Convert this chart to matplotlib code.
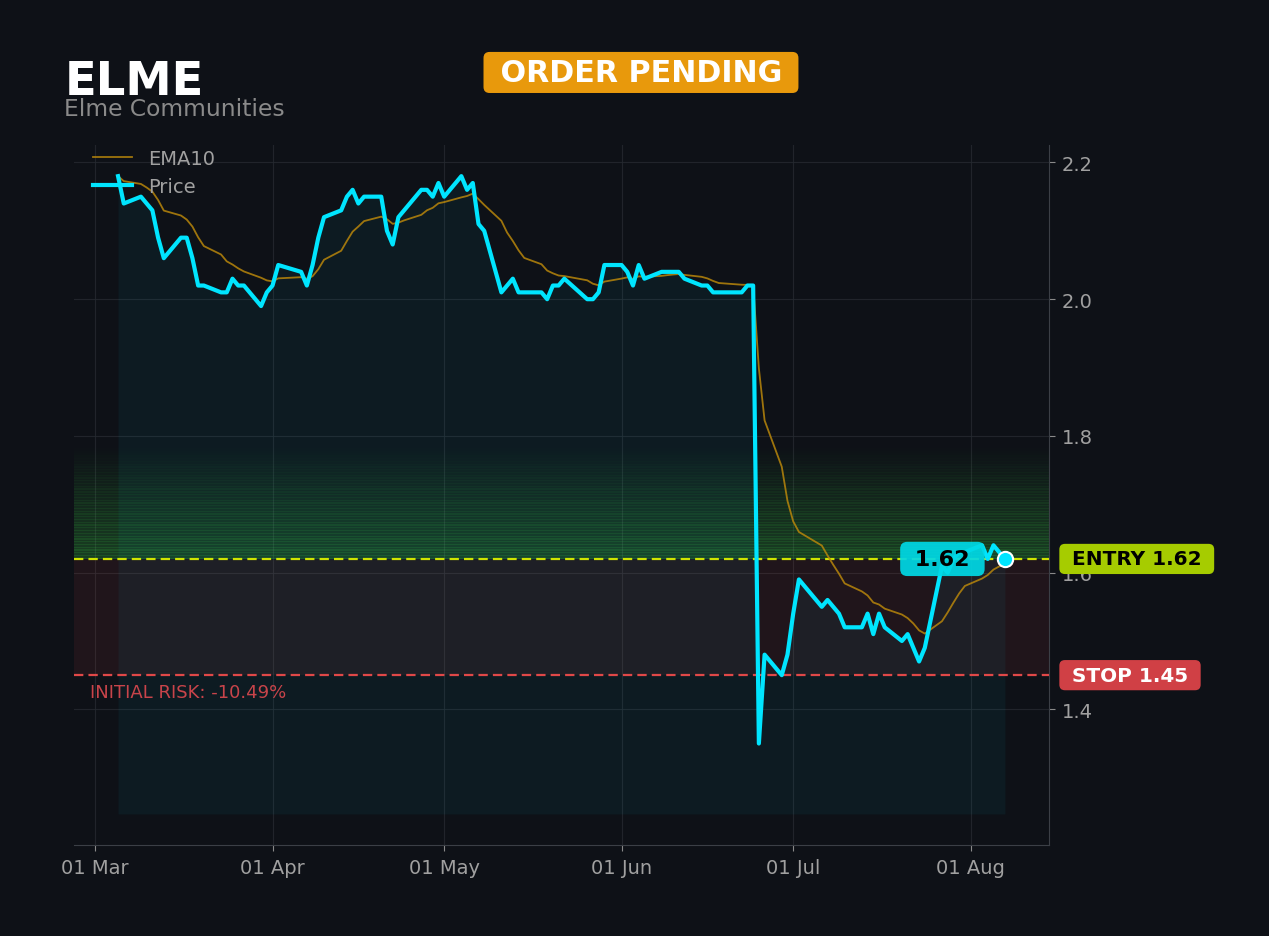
import matplotlib
matplotlib.use("Agg")
import matplotlib.pyplot as plt
import matplotlib.dates as mdates
import matplotlib.ticker as mticker
import pandas as pd

# ---- data ----
ticker = "ELME"
company = "Elme Communities"
status = "ORDER PENDING"
entry = 1.62
stop = 1.45

first_day, last_day = "2026-03-05", "2026-08-07"
holidays = ["2026-04-03", "2026-05-25", "2026-06-19", "2026-07-03"]

price_mar = [2.18, 2.14, 2.15, 2.14, 2.13, 2.09, 2.06, 2.09, 2.09, 2.06,
             2.02, 2.02, 2.01, 2.01, 2.03, 2.02, 2.02, 1.99, 2.01]
price_apr = [2.02, 2.05, 2.04, 2.02, 2.05, 2.09, 2.12, 2.13, 2.15, 2.16,
             2.14, 2.15, 2.15, 2.10, 2.08, 2.12, 2.13, 2.16, 2.16, 2.15, 2.17]
price_may = [2.15, 2.18, 2.16, 2.17, 2.11, 2.10, 2.01, 2.02, 2.03, 2.01,
             2.01, 2.01, 2.00, 2.02, 2.02, 2.03, 2.00, 2.00, 2.01, 2.05]
price_jun = [2.05, 2.04, 2.02, 2.05, 2.03, 2.04, 2.04, 2.04, 2.04, 2.03,
             2.02, 2.02, 2.01, 2.01, 2.01, 2.02, 2.02, 1.35, 1.48, 1.45, 1.48]
price_jul = [1.54, 1.59, 1.55, 1.56, 1.55, 1.54, 1.52, 1.52, 1.54, 1.51,
             1.54, 1.52, 1.50, 1.51, 1.49, 1.47, 1.49, 1.61, 1.60, 1.62, 1.63, 1.63]
price_aug = [1.64, 1.62, 1.64, 1.63, 1.62]

dates = pd.bdate_range(first_day, last_day, freq="C", holidays=holidays)
price = pd.Series(price_mar + price_apr + price_may + price_jun + price_jul + price_aug,
                  index=dates)
ema10 = price.ewm(span=10, adjust=False).mean()
risk_pct = (stop - entry) / entry * 100

# ---- style ----
BG = "#0e1117"
CYAN = "#00e5ff"
GREEN = "#3ccf46"
fill_floor = 1.247
target = entry * 1.10

fig = plt.figure(figsize=(12.69, 9.37), dpi=100, facecolor=BG)
ax = fig.add_axes([0.0583, 0.0971, 0.7683, 0.7471])
ax.set_facecolor(BG)

# zones: red risk band, striped green gradient above entry
ax.axhspan(stop, entry, color="#ff4b4b", alpha=0.08, lw=0, zorder=1)
n = 40
step = (target - entry) / n
for i in range(n):
    lo = entry + i * step
    a = 0.24 * (1 - i / n)
    ax.axhspan(lo, lo + step, color=GREEN, alpha=a, lw=0, zorder=1)
    ax.axhspan(lo, lo + 0.45 * step, color=GREEN, alpha=0.65 * a, lw=0, zorder=1)

ax.fill_between(dates, price, fill_floor, color=CYAN, alpha=0.05, lw=0, zorder=2)

ax.plot(dates, ema10, color="#b8860b", lw=1.3, alpha=0.85, label="EMA10", zorder=4)
ax.plot(dates, price, color=CYAN, lw=3, label="Price", zorder=5)

ax.axhline(entry, color="#d0e400", lw=1.6, dashes=(4.2, 2.3), zorder=3)
ax.axhline(stop, color="#e04848", lw=1.6, dashes=(4.2, 2.3), zorder=3)

ax.plot(dates[-1], price.iloc[-1], "o", ms=11, mfc=CYAN, mec="white", mew=1.5, zorder=7)
ax.annotate(f" {price.iloc[-1]:.2f} ", (dates[-1], price.iloc[-1]), xytext=(-45, 0),
            textcoords="offset points", ha="center", va="center", fontsize=16,
            weight="bold", color="black", zorder=6,
            bbox=dict(boxstyle="round,pad=0.32", fc="#00d9e6", ec="none", alpha=0.92))

ytr = ax.get_yaxis_transform()
ax.text(1.0164, entry, f" ENTRY {entry:.2f} ", transform=ytr, ha="left", va="center",
        fontsize=14.4, weight="bold", color="black", clip_on=False, zorder=8,
        bbox=dict(boxstyle="round,pad=0.28", fc="#a6cc00", ec="none"))
ax.text(1.0164, stop, f" STOP {stop:.2f} ", transform=ytr, ha="left", va="center",
        fontsize=14.4, weight="bold", color="white", clip_on=False, zorder=8,
        bbox=dict(boxstyle="round,pad=0.28", fc="#d04045", ec="none"))
ax.text(0.016, stop - 0.025, f"INITIAL RISK: {risk_pct:.2f}%", transform=ytr,
        ha="left", va="center", fontsize=13, color="#c8444a", zorder=8)

# axes
ax.set_xlim(dates[0] - pd.Timedelta(days=7.7), dates[-1] + pd.Timedelta(days=7.7))
ax.set_ylim(1.2015, 2.2256)
ax.yaxis.tick_right()
ax.set_yticks([1.4, 1.6, 1.8, 2.0, 2.2])
ax.yaxis.set_major_formatter(mticker.FormatStrFormatter("%.1f"))
ax.xaxis.set_major_locator(mdates.MonthLocator())
ax.xaxis.set_major_formatter(mdates.DateFormatter("%d %b"))
ax.tick_params(colors="#8a8a8a", labelcolor="#a0a0a0", labelsize=14, length=4, pad=5)
ax.grid(True, color="#262a31", lw=0.8, alpha=0.8)
ax.set_axisbelow(True)
for s in ["top", "left"]:
    ax.spines[s].set_visible(False)
for s in ["bottom", "right"]:
    ax.spines[s].set_color("#3b3f46")

leg = ax.legend(loc="upper left", bbox_to_anchor=(0.002, 1.019), frameon=False,
                fontsize=14, labelspacing=0.45, labelcolor="#a0a0a0")

# header
fig.text(0.0512, 1 - 95 / 937, ticker, fontsize=33.5, weight="bold", color="white",
         va="baseline")
fig.text(0.0505, 1 - 116.5 / 937, company, fontsize=16.8, color="#8a8a8a", va="baseline")
fig.text(0.5051, 0.9216, f" {status} ", ha="center", va="center", fontsize=21.7,
         weight="bold", color="white",
         bbox=dict(boxstyle="round,pad=0.2", fc="#e8990c", ec="none"))

fig.savefig("out.png", dpi=100, facecolor=BG)
